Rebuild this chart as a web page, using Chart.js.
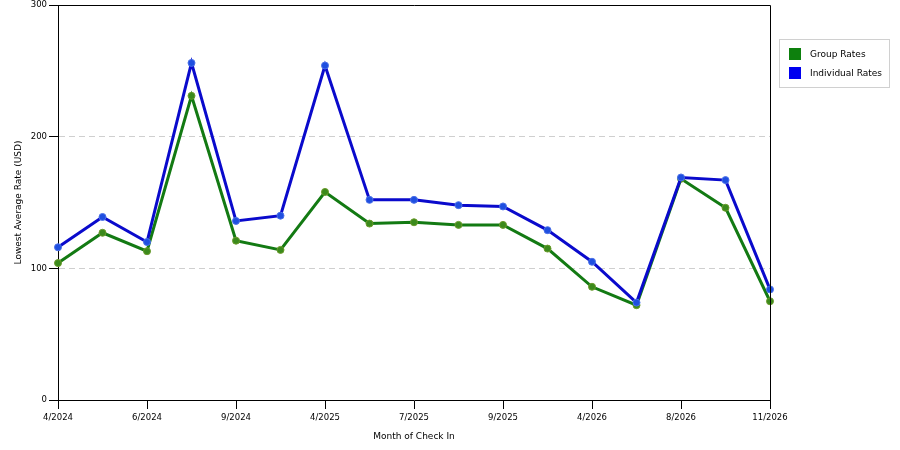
<!DOCTYPE html>
<html>
<head>
<meta charset="utf-8">
<script src="https://cdn.jsdelivr.net/npm/chart.js@4/dist/chart.umd.min.js"></script>
<style>
  html, body { margin: 0; padding: 0; background: #fff; }
  #wrap { width: 900px; height: 450px; position: relative; }
</style>
</head>
<body>
<div id="wrap"><canvas id="c"></canvas></div>
<script>
const categories = ['4/2024','5/2024','6/2024','7/2024','9/2024','10/2024','4/2025','5/2025','7/2025','8/2025','9/2025','10/2025','4/2026','5/2026','8/2026','9/2026','11/2026'];
const groupRates = [104,127,113,231,121,114,158,134,135,133,133,115,86,72,168,146,75];
const individualRates = [116,139,120,256,136,140,254,152,152,148,147,129,105,74,169,167,84];
const yTicks = [0,100,200,300];

const frameAndLegend = {
  id: 'frameAndLegend',
  afterDraw(chart) {
    const {ctx, chartArea: a} = chart;
    ctx.save();
    ctx.strokeStyle = '#000';
    ctx.lineWidth = 1;
    ctx.beginPath();
    ctx.moveTo(a.left, a.top + 0.5);
    ctx.lineTo(a.right + 0.5, a.top + 0.5);
    ctx.lineTo(a.right + 0.5, a.bottom);
    ctx.stroke();
    // legend box
    ctx.strokeStyle = '#d0d0d0';
    ctx.strokeRect(779.5, 39.5, 110, 48);
    ctx.font = '9px "DejaVu Sans"';
    ctx.textBaseline = 'middle';
    ctx.fillStyle = '#000';
    const items = [
      {label: chart.data.datasets[0].label, color: '#0d800d'},
      {label: chart.data.datasets[1].label, color: '#0000f0'}
    ];
    items.forEach((it, i) => {
      const y = 48 + i * 19;
      ctx.fillStyle = it.color;
      ctx.fillRect(789, y, 12, 12);
      ctx.fillStyle = '#000';
      ctx.fillText(it.label, 810, y + 6.5);
    });
    ctx.restore();
  }
};

new Chart(document.getElementById('c'), {
  type: 'line',
  data: {
    labels: categories,
    datasets: [
      {
        label: 'Group Rates',
        data: groupRates,
        borderColor: '#137a13',
        backgroundColor: '#3b8a1c',
        pointBackgroundColor: '#3b8a1c',
        pointBorderColor: '#6a9a2a',
        pointBorderWidth: 1,
        pointRadius: 3.5,
        borderWidth: 3,
        tension: 0,
        order: 1
      },
      {
        label: 'Individual Rates',
        data: individualRates,
        borderColor: '#0a0acc',
        backgroundColor: '#1f4fe0',
        pointBackgroundColor: '#1f4fe0',
        pointBorderColor: '#4a70e8',
        pointBorderWidth: 1,
        pointRadius: 3.5,
        borderWidth: 3,
        tension: 0,
        order: 0
      }
    ]
  },
  options: {
    responsive: true,
    maintainAspectRatio: false,
    animation: false,
    layout: { padding: { top: 5, right: 130, left: 0, bottom: 0 } },
    plugins: {
      legend: { display: false },
      tooltip: { enabled: false }
    },
    scales: {
      x: {
        offset: false,
        afterFit(scale) {
          scale.height = 50;
          scale.paddingLeft = 0; scale.paddingRight = 0;
        },
        grid: {
          drawOnChartArea: false,
          drawTicks: true,
          tickLength: 9,
          tickColor: (ctx) => (ctx.index % 2 === 0 ? '#000' : 'rgba(0,0,0,0)'),
          tickWidth: 1
        },
        border: { color: '#000', width: 1 },
        ticks: {
          autoSkip: false,
          maxRotation: 0,
          padding: 4,
          color: '#000',
          font: { family: 'DejaVu Sans', size: 8.5 },
          callback: function(value, index) { return index % 2 === 0 ? categories[index] : ''; }
        },
        title: {
          display: true,
          text: 'Month of Check In',
          color: '#000',
          font: { family: 'DejaVu Sans', size: 9 },
          padding: { top: 0, bottom: 8 }
        }
      },
      y: {
        min: 0,
        max: 300,
        afterFit(scale) {
          scale.width = 58;
          scale.paddingTop = 0; scale.paddingBottom = 0;
        },
        afterBuildTicks(scale) { scale.ticks = yTicks.map(v => ({value: v})); },
        grid: {
          color: (ctx) => (ctx.tick && (ctx.tick.value === 0 || ctx.tick.value === 300) ? 'rgba(0,0,0,0)' : '#cfcfcf'),
          lineWidth: 1,
          tickColor: '#000',
          tickLength: 9,
          drawTicks: true
        },
        border: { color: '#000', width: 1, dash: [6, 4] },
        ticks: {
          padding: 2,
          color: '#000',
          font: { family: 'DejaVu Sans', size: 8.5 }
        },
        title: {
          display: true,
          text: 'Lowest Average Rate (USD)',
          color: '#000',
          font: { family: 'DejaVu Sans', size: 9 },
          padding: { top: 13, bottom: 0 }
        }
      }
    }
  },
  plugins: [frameAndLegend]
});
</script>
</body>
</html>
